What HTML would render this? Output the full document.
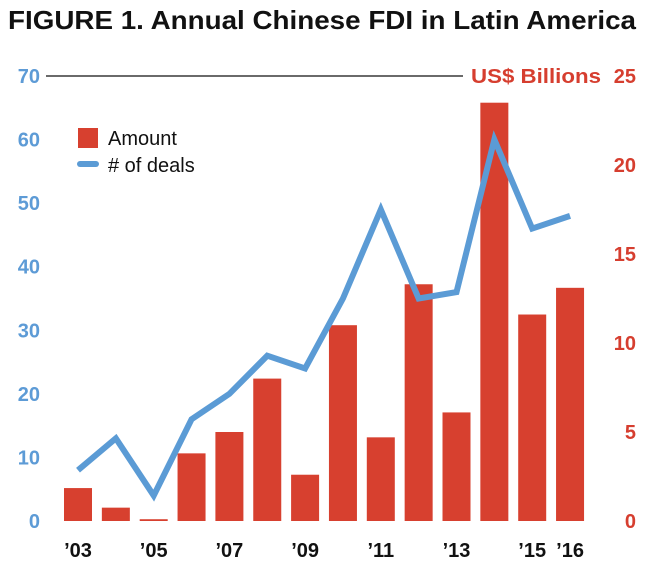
<!DOCTYPE html>
<html><head><meta charset="utf-8"><style>
html,body{margin:0;padding:0;background:#fff;}
svg{display:block;font-family:"Liberation Sans",sans-serif;}
</style></head><body>
<svg id="chart" width="646" height="585">
<text x="8" y="29" font-size="26" font-weight="bold" fill="#111" textLength="628" lengthAdjust="spacingAndGlyphs">FIGURE 1. Annual Chinese FDI in Latin America</text>
<line x1="46" y1="76" x2="463" y2="76" stroke="#111" stroke-width="1.2"/>
<text x="471" y="83" font-size="20" font-weight="bold" fill="#d63e2f" textLength="130" lengthAdjust="spacingAndGlyphs">US$ Billions</text>
<g id="bars"></g>
<g id="line"></g>
<g id="axes"></g>
<g>
<rect x="78" y="128" width="20" height="20" fill="#d7402f"/>
<text x="108" y="145" font-size="20" fill="#111">Amount</text>
<line x1="80" y1="164" x2="96" y2="164" stroke="#5b9bd5" stroke-width="6" stroke-linecap="round"/>
<text x="108" y="172" font-size="20" fill="#111"># of deals</text>
</g>
</svg>
<script>
const years = [2003,2004,2005,2006,2007,2008,2009,2010,2011,2012,2013,2014,2015,2016];
const amounts = [1.85,0.75,0.1,3.8,5.0,8.0,2.6,11.0,4.7,13.3,6.1,23.5,11.6,13.1];
const deals = [8,13,4,16,20,26,24,35,49,35,36,60,46,48];
const leftTicks = [0,10,20,30,40,50,60,70];
const rightTicks = [0,5,10,15,20,25];
const xLabels = [["'03",2003],["'05",2005],["'07",2007],["'09",2009],["'11",2011],["'13",2013],["'15",2015],["'16",2016]];
const NS="http://www.w3.org/2000/svg";
const y0=521, y1=76;
const x=(yr)=>78+(yr-2003)*37.85;
const yL=(v)=>y0-(v/70)*(y0-y1);
const yR=(v)=>y0-(v/25)*(y0-y1);
function mk(t,a,p){const e=document.createElementNS(NS,t);for(const k in a)e.setAttribute(k,a[k]);p.appendChild(e);return e;}
const bars=document.getElementById('bars');
years.forEach((yr,i)=>{const r=mk('rect',{x:x(yr)-14,y:yR(amounts[i]),width:28,height:y0-yR(amounts[i]),fill:'#d7402f'},bars);

});
const lg=document.getElementById('line');
const pl=mk('polyline',{points:years.map((yr,i)=>x(yr)+','+yL(deals[i])).join(' '),fill:'none',stroke:'#5b9bd5','stroke-width':6,'stroke-linejoin':'miter'},lg);


const ax=document.getElementById('axes');
leftTicks.forEach(v=>{const t=mk('text',{x:40,y:yL(v)+7,'font-size':20,'font-weight':'bold',fill:'#5d9bd6','text-anchor':'end'},ax);t.textContent=v;

});
rightTicks.forEach(v=>{const t=mk('text',{x:636,y:yR(v)+7,'font-size':20,'font-weight':'bold',fill:'#d63e2f','text-anchor':'end'},ax);t.textContent=v;

});
xLabels.forEach(([l,yr])=>{const t=mk('text',{x:x(yr),y:557,'font-size':20,'font-weight':'bold',fill:'#111','text-anchor':'middle'},ax);t.textContent=l.replace("'","\u2019");

});
</script>
</body></html>
